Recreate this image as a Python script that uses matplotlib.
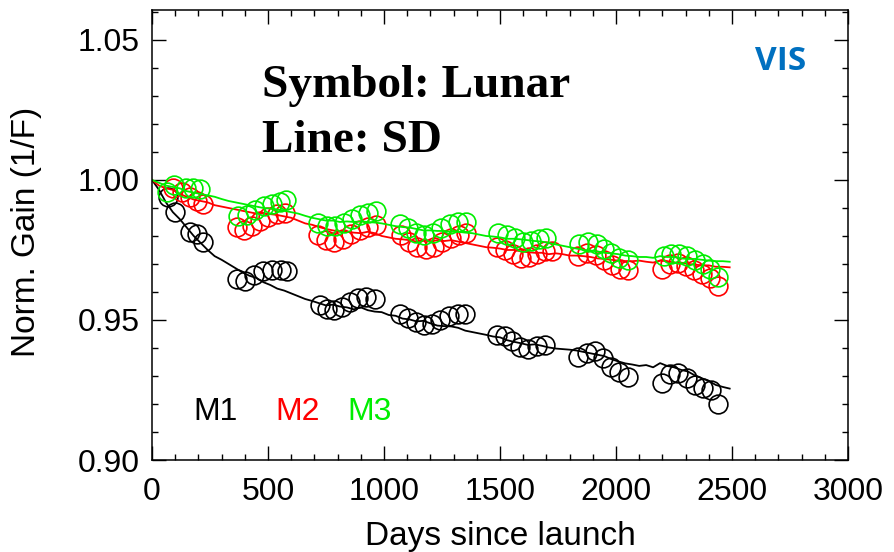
import numpy as np
import matplotlib.pyplot as plt
from matplotlib.ticker import MultipleLocator, FormatStrFormatter

# ---- SD trends (every 30 days) ----
sd_days = list(range(0, 2491, 30))

sd_m1 = [1.000, 0.9965, 0.992, 0.9885, 0.986, 0.983, 0.980, 0.9775, 0.975, 0.9728,
         0.9715, 0.970, 0.9685, 0.967, 0.9658, 0.965, 0.9635, 0.9625, 0.9612, 0.9605,
         0.9595, 0.9585, 0.9575, 0.9568, 0.956, 0.9552, 0.9555, 0.9548, 0.9545, 0.9538,
         0.9545, 0.9535, 0.953, 0.9528, 0.9518, 0.9515, 0.9505, 0.9502, 0.9495, 0.9497,
         0.9488, 0.948, 0.9478, 0.9477, 0.9472, 0.9462, 0.9457, 0.9452, 0.9447, 0.9441,
         0.9438, 0.9428, 0.9422, 0.9417, 0.9411, 0.9413, 0.9408, 0.9402, 0.9398, 0.9396,
         0.9394, 0.9391, 0.9386, 0.9381, 0.9376, 0.9371, 0.936, 0.9352, 0.9345, 0.9341,
         0.9336, 0.9339, 0.9331, 0.9346, 0.9336, 0.9331, 0.9322, 0.9316, 0.9302, 0.9292,
         0.9282, 0.9268, 0.9261, 0.9255]

sd_m2 = [1.000, 0.998, 0.997, 0.9965, 0.995, 0.994, 0.993, 0.9925, 0.992, 0.991,
         0.9905, 0.990, 0.9895, 0.989, 0.9885, 0.988, 0.988, 0.9878, 0.9875, 0.987,
         0.9865, 0.9855, 0.9845, 0.984, 0.9832, 0.9825, 0.982, 0.9815, 0.9815, 0.9812,
         0.981, 0.9815, 0.981, 0.980, 0.9795, 0.979, 0.9788, 0.9785, 0.978, 0.9785,
         0.978, 0.9785, 0.9782, 0.9785, 0.978, 0.9775, 0.977, 0.9765, 0.976, 0.9758,
         0.9755, 0.975, 0.975, 0.9745, 0.9742, 0.974, 0.974, 0.9735, 0.9738, 0.9735,
         0.973, 0.973, 0.9728, 0.9725, 0.972, 0.9718, 0.9715, 0.9712, 0.971, 0.971,
         0.9712, 0.9708, 0.9705, 0.9712, 0.971, 0.9705, 0.9705, 0.970, 0.9698, 0.9695,
         0.9695, 0.969, 0.969, 0.9688]

sd_m3 = [1.000, 0.999, 0.998, 0.9975, 0.997, 0.996, 0.9955, 0.995, 0.9945, 0.994,
         0.9932, 0.9925, 0.992, 0.9915, 0.991, 0.9905, 0.990, 0.9898, 0.9895, 0.989,
         0.9885, 0.988, 0.9872, 0.9865, 0.986, 0.9855, 0.9855, 0.985, 0.9852, 0.985,
         0.9852, 0.985, 0.9848, 0.9845, 0.984, 0.9835, 0.9832, 0.983, 0.9825, 0.982,
         0.982, 0.9818, 0.9818, 0.9815, 0.9815, 0.9812, 0.981, 0.9805, 0.980, 0.9798,
         0.9795, 0.979, 0.979, 0.9788, 0.9785, 0.9782, 0.978, 0.9775, 0.977, 0.9765,
         0.976, 0.9755, 0.975, 0.9748, 0.9745, 0.974, 0.9738, 0.9735, 0.973, 0.9728,
         0.9725, 0.9725, 0.9722, 0.9728, 0.9725, 0.9725, 0.972, 0.9718, 0.9718, 0.9715,
         0.9712, 0.971, 0.971, 0.9708]

# ---- Lunar points ----
lun_m1_d = [69, 99, 164, 194, 220,
            366, 401, 440, 478, 517, 556, 582,
            724, 754, 784, 819, 853, 888, 922, 961,
            1069, 1103, 1138, 1172, 1207, 1241, 1280, 1319, 1349,
            1487, 1522, 1552, 1586, 1621, 1659, 1694,
            1836, 1875, 1909, 1944, 1978, 2013, 2052,
            2198, 2233, 2267, 2306, 2341, 2375, 2409, 2440]
lun_m1_v = [0.9939, 0.9886, 0.9814, 0.9807, 0.9779,
            0.9646, 0.9639, 0.9661, 0.9675, 0.9679, 0.9679, 0.9675,
            0.9554, 0.9539, 0.9536, 0.9546, 0.9564, 0.9579, 0.9582, 0.9575,
            0.9521, 0.9507, 0.9493, 0.9482, 0.9486, 0.9500, 0.9514, 0.9521, 0.9521,
            0.9446, 0.9443, 0.9425, 0.9404, 0.9396, 0.9407, 0.9411,
            0.9368, 0.9382, 0.9389, 0.9364, 0.9332, 0.9314, 0.9296,
            0.9275, 0.9307, 0.9311, 0.9293, 0.9268, 0.9257, 0.9250, 0.9200]

lun_m2_d = [91, 129, 164, 194, 220,
            366, 397, 431, 466, 500, 539, 573,
            716, 750, 784, 823, 858, 897, 931, 966,
            1073, 1108, 1142, 1181, 1216, 1250, 1289, 1323, 1353,
            1487, 1522, 1556, 1591, 1625, 1659, 1694, 1724,
            1836, 1875, 1914, 1948, 1983, 2017, 2052,
            2198, 2233, 2267, 2302, 2336, 2371, 2405, 2440]
lun_m2_v = [0.9971, 0.9957, 0.9939, 0.9925, 0.9914,
            0.9832, 0.9821, 0.9836, 0.9854, 0.9868, 0.9879, 0.9882,
            0.9804, 0.9786, 0.9779, 0.9789, 0.9807, 0.9821, 0.9832, 0.9839,
            0.9804, 0.9779, 0.9761, 0.9754, 0.9761, 0.9779, 0.9793, 0.9804, 0.9811,
            0.9761, 0.9750, 0.9736, 0.9721, 0.9725, 0.9736, 0.9746, 0.9746,
            0.9729, 0.9739, 0.9732, 0.9714, 0.9696, 0.9682, 0.9679,
            0.9682, 0.9700, 0.9704, 0.9693, 0.9679, 0.9664, 0.9650, 0.9621]

lun_m3_d = [65, 95, 147, 177, 207,
            371, 409, 444, 483, 517, 552, 578,
            716, 754, 789, 828, 862, 897, 931, 966,
            1069, 1103, 1138, 1172, 1211, 1246, 1284, 1319, 1353,
            1491, 1530, 1565, 1599, 1634, 1668, 1698,
            1841, 1879, 1918, 1948, 1978, 2013, 2052,
            2207, 2237, 2272, 2306, 2341, 2375, 2405, 2440]
lun_m3_v = [0.9957, 0.9982, 0.9971, 0.9971, 0.9968,
            0.9871, 0.9875, 0.9893, 0.9907, 0.9914, 0.9921, 0.9929,
            0.9846, 0.9836, 0.9836, 0.9846, 0.9861, 0.9875, 0.9882, 0.9889,
            0.9843, 0.9829, 0.9811, 0.9804, 0.9811, 0.9829, 0.9843, 0.9850, 0.9850,
            0.9811, 0.9804, 0.9793, 0.9779, 0.9782, 0.9789, 0.9793,
            0.9771, 0.9779, 0.9771, 0.9754, 0.9739, 0.9721, 0.9714,
            0.9729, 0.9736, 0.9736, 0.9729, 0.9714, 0.9700, 0.9682, 0.9654]

colors = {"M1": "black", "M2": "#ff0000", "M3": "#00ee00"}

sans = "Liberation Sans"

fig = plt.figure(figsize=(8.94, 5.52), dpi=100)
ax = fig.add_axes([152 / 894, 1 - 460 / 552, 696 / 894, 450 / 552])

for name, sd, ld, lv in [("M1", sd_m1, lun_m1_d, lun_m1_v),
                         ("M2", sd_m2, lun_m2_d, lun_m2_v),
                         ("M3", sd_m3, lun_m3_d, lun_m3_v)]:
    c = colors[name]
    ax.plot(sd_days, sd, color=c, lw=1.3)
    ax.plot(ld, lv, ls="none", marker="o", ms=13.5, mfc="none", mec=c, mew=1.2)

ax.set_xlim(0, 3000)
ax.set_ylim(0.90, 1.0607)
ax.xaxis.set_major_locator(MultipleLocator(500))
ax.xaxis.set_minor_locator(MultipleLocator(100))
ax.yaxis.set_major_locator(MultipleLocator(0.05))
ax.yaxis.set_minor_locator(MultipleLocator(0.01))
ax.yaxis.set_major_formatter(FormatStrFormatter("%.2f"))

ax.tick_params(which="both", direction="in", top=True, right=True, width=1.0)
ax.tick_params(which="major", length=10, labelsize=23, pad=9)
ax.tick_params(axis="x", which="major", pad=12)
ax.tick_params(which="minor", length=4.5)
for lab in ax.get_xticklabels() + ax.get_yticklabels():
    lab.set_family(sans)
for sp in ax.spines.values():
    sp.set_linewidth(1.1)

fig.text(500 / 894, 1 - 537 / 552, "Days since launch", ha="center", va="center",
         fontsize=24, family=sans)
fig.text(27 / 894, 1 - 232 / 552, "Norm. Gain (1/F)", ha="center", va="center",
         rotation=90, fontsize=24, family=sans)

ax.text(0.158, 0.807, "Symbol: Lunar", transform=ax.transAxes, fontsize=34,
        family="Liberation Serif", weight="bold", va="baseline")
ax.text(0.158, 0.684, "Line: SD", transform=ax.transAxes, fontsize=34,
        family="Liberation Serif", weight="bold", va="baseline")
ax.text(0.866, 0.867, "VIS", transform=ax.transAxes, fontsize=24,
        family="Open Sans", weight="bold", color="#0070C0", va="baseline")

for name, xa in [("M1", 0.059), ("M2", 0.177), ("M3", 0.280)]:
    ax.text(xa, 0.089, name, transform=ax.transAxes, fontsize=23, family=sans,
            color=colors[name], va="baseline")

fig.savefig("out.png", dpi=100)
